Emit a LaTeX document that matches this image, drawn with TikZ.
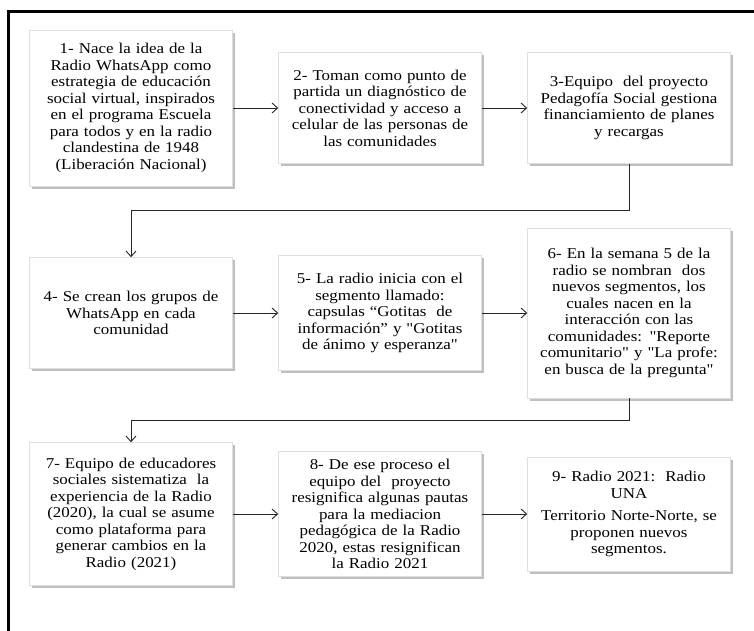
\documentclass[tikz,border=0pt]{standalone}
\usepackage{fontspec}
\newfontfamily\boxfont{Liberation Serif}[FakeStretch=1.13]
\newcommand\boxsetup{\boxfont\fontsize{15}{16.5}\selectfont\setlength{\lineskiplimit}{-30pt}\setlength{\lineskip}{0pt}}
\usetikzlibrary{arrows.meta,shadows}
\begin{document}
\begin{tikzpicture}[x=1pt,y=-1pt,
  stepbox/.style={draw=gray!25,fill=white,line width=0.6pt,
    text width=200pt,align=center,inner sep=1.5pt,
    font=\boxsetup,
    drop shadow={shadow xshift=2.2pt,shadow yshift=-2.8pt,fill=gray!55,opacity=0.9}},
  conn/.style={draw=black!85,line width=0.9pt},
  arr/.style={conn,-{Straight Barb[length=5.5pt,width=10pt,line width=0.9pt]}}]
\useasboundingbox (0,0) rectangle (754,631);
\fill[white] (0,0) rectangle (754,631);
\draw[line width=3pt,line cap=butt] (8.7,640) -- (8.7,12) -- (760,12);

\node[stepbox,minimum height=156pt] (b1) at (131,108) {1- Nace la idea de la\\Radio WhatsApp como\\estrategia de educación\\social virtual, inspirados\\en el programa Escuela\\para todos y en la radio\\clandestina de 1948\\(Liberación Nacional)};
\node[stepbox,minimum height=111pt] (b2) at (380,108) {2- Toman como punto de\\partida un diagnóstico de\\conectividad y acceso a\\celular de las personas de\\las comunidades};
\node[stepbox,minimum height=111pt] (b3) at (629,108) {3-Equipo\ \ del proyecto\\Pedagofía Social gestiona\\financiamiento de planes\\y recargas};

\node[stepbox,minimum height=111pt] (b4) at (131,313) {4- Se crean los grupos de\\WhatsApp en cada\\comunidad};
\node[stepbox,minimum height=115pt] (b5) at (380,313) {5- La radio inicia con el\\segmento llamado:\\capsulas “Gotitas\ \ de\\información” y "Gotitas\\de ánimo y esperanza"};
\node[stepbox,minimum height=170pt] (b6) at (629,313) {6- En la semana 5 de la\\radio se nombran\ \ dos\\nuevos segmentos, los\\cuales nacen en la\\interacción con las\\comunidades: "Reporte\\comunitario" y "La profe:\\en busca de la pregunta"};

\node[stepbox,minimum height=143pt] (b7) at (131,514) {7- Equipo de educadores\\sociales sistematiza\ \ la\\experiencia de la Radio\\(2020), la cual se asume\\como plataforma para\\generar cambios en la\\Radio (2021)};
\node[stepbox,minimum height=125pt] (b8) at (380,514) {8- De ese proceso el\\equipo del\ \ proyecto\\resignifica algunas pautas\\para la mediacion\\pedagógica de la Radio\\2020, estas resignifican\\la Radio 2021};
\node[stepbox,minimum height=114pt] (b9) at (629,514) {9- Radio 2021:\ \ Radio\\UNA\\[6pt]Territorio Norte-Norte, se\\proponen nuevos\\segmentos.};

\coordinate (k1) at (629,210);
\coordinate (k2) at (629,420);

\draw[arr] (b1.east) -- (b2.west);
\draw[arr] (b2.east) -- (b3.west);
\draw[arr] (b3.south) -- (k1) -| (b4.north);
\draw[arr] (b4.east) -- (b5.west);
\draw[arr] (b5.east) -- (b6.west);
\draw[arr] (b6.south) -- (k2) -| (b7.north);
\draw[arr] (b7.east) -- (b8.west);
\draw[arr] (b8.east) -- (b9.west);
\end{tikzpicture}
\end{document}
